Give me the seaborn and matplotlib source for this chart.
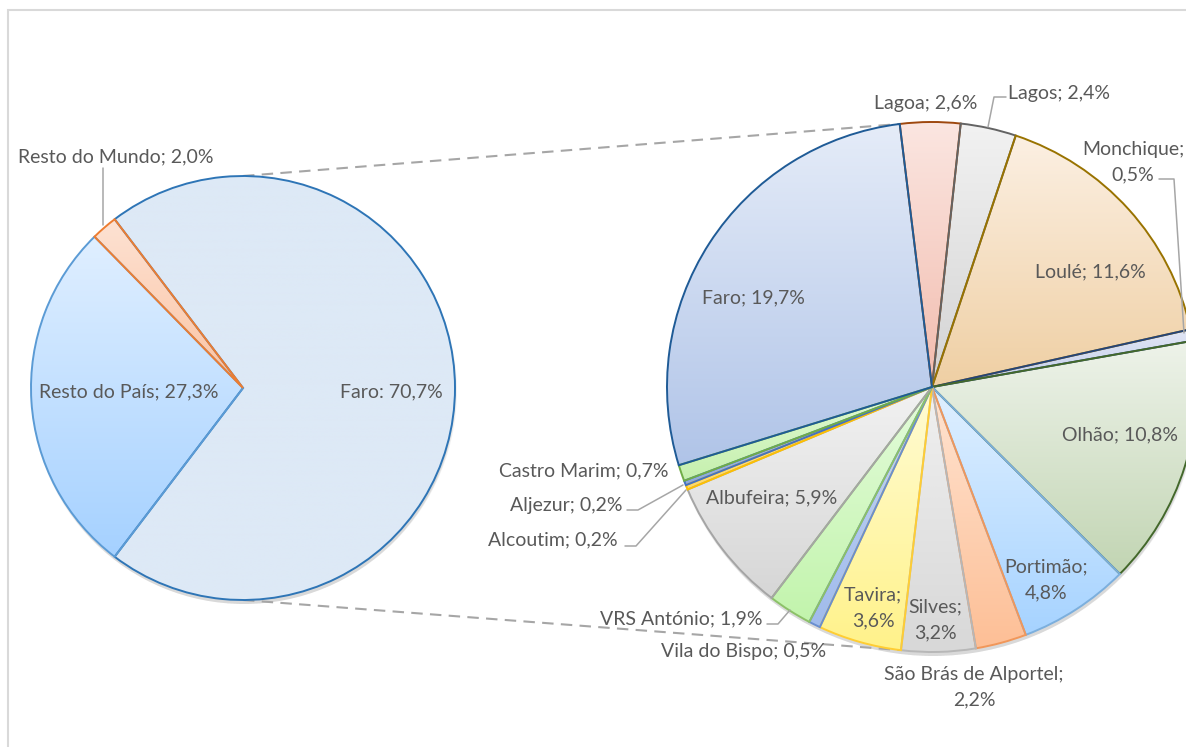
import numpy as np
import matplotlib
matplotlib.use("Agg")
import matplotlib.pyplot as plt
import seaborn as sns
from matplotlib.colors import to_rgb
from matplotlib.patches import Rectangle, Circle

# ---- data ----
main_labels = ["Faro", "Resto do País", "Resto do Mundo"]
main_values = [70.7, 27.3, 2.0]

sub_labels = ["Lagoa", "Lagos", "Loulé", "Monchique", "Olhão", "Portimão",
              "São Brás de Alportel", "Silves", "Tavira", "Vila do Bispo",
              "VRS António", "Albufeira", "Alcoutim", "Aljezur", "Castro Marim", "Faro"]
sub_values = [2.6, 2.4, 11.6, 0.5, 10.8, 4.8, 2.2, 3.2, 3.6, 0.5,
              1.9, 5.9, 0.2, 0.2, 0.7, 19.7]

# ---- styles ----
main_edges = ["#2e75b6", "#5b9bd5", "#ed7d31"]
main_fills = [("#dde9f6", "#dde9f6"), ("#e0efff", "#a5d1ff"), ("#fde2d3", "#fcc3a2")]

sub_edges = ["#9e480e", "#636363", "#997300", "#264478", "#43682b", "#7cafdd",
             "#f1975a", "#b7b7b7", "#ffcd33", "#698ed0", "#8cc168", "#a5a5a5",
             "#ffc000", "#4472c4", "#70ad47", "#1f5b96"]
sub_fills = [("#fbe6e1", "#f2bcae"), ("#f2f2f2", "#d3d3d3"), ("#fcf0e3", "#efcfa3"),
             ("#e1e6f5", "#c3cdea"), ("#eef3ea", "#c2d5b3"), ("#e0f0ff", "#a6d3ff"),
             ("#ffe4d2", "#fdbf96"), ("#f0f0f0", "#d8d8d8"), ("#fffcd5", "#fff28a"),
             ("#c8d8f5", "#a0bbec"), ("#e4fcdb", "#c2f4ac"), ("#f2f2f2", "#d6d6d6"),
             ("#ffe9a6", "#ffd966"), ("#b4c7f0", "#8eaadb"), ("#e2fad4", "#c5f0ad"),
             ("#e5ecf8", "#b0c4e8")]

W, H = 1186, 747
TXT = "#595959"


def py(y):
    return H - y


def pct(v):
    return f"{v:.1f}".replace(".", ",") + "%"


def grad_fill(ax, wedge, top, bottom):
    x0, y0 = wedge.get_path().get_extents().min
    x1, y1 = wedge.get_path().get_extents().max
    t = np.linspace(0, 1, 256)[:, None, None]
    img = (1 - t) * np.array(to_rgb(top)) + t * np.array(to_rgb(bottom))
    im = ax.imshow(img, extent=[x0, x1, y0, y1], origin="upper", aspect="auto",
                   interpolation="bilinear", zorder=0.9)
    im.set_clip_path(wedge)
    wedge.set_facecolor("none")


sns.set_theme(style="white")
plt.rcParams["font.family"] = ["Lato", "DejaVu Sans"]

fig = plt.figure(figsize=(W / 100, H / 100), dpi=100)
ax = fig.add_axes([0, 0, 1, 1])

left_c, left_r = (243, py(388)), 212
right_c, right_r = (932, py(387)), 265

# soft shadows under both pies
for c, r in [(left_c, left_r), (right_c, right_r)]:
    for k, a in enumerate([0.05, 0.05, 0.05]):
        ax.add_patch(Circle((c[0] + 1, c[1] - 3 - k), r + 1 - k, color="black",
                            alpha=a, lw=0, zorder=0.5))

# left pie: Faro slice centred facing the second pie
start_main = 360 * main_values[0] / sum(main_values) / 2
wl, _ = ax.pie(main_values, center=left_c, radius=left_r, startangle=start_main,
               counterclock=False, wedgeprops=dict(linewidth=1.4))
for w, e, f in zip(wl, main_edges, main_fills):
    w.set_edgecolor(e)
    grad_fill(ax, w, *f)

# right pie: breakdown of Faro district
start_sub = 97
wr, _ = ax.pie(sub_values, center=right_c, radius=right_r, startangle=start_sub,
               counterclock=False, wedgeprops=dict(linewidth=1.4))
for w, e, f in zip(wr, sub_edges, sub_fills):
    w.set_edgecolor(e)
    grad_fill(ax, w, *f)

# dashed connector lines
for a_left, a_right in [(90, start_sub), (270, 360 - start_sub)]:
    xl = left_c[0] + left_r * np.cos(np.radians(a_left))
    yl = left_c[1] + left_r * np.sin(np.radians(a_left))
    xr = right_c[0] + right_r * np.cos(np.radians(a_right))
    yr = right_c[1] + right_r * np.sin(np.radians(a_right))
    ax.plot([xl, xr], [yl, yr], color="#a6a6a6", lw=1.5, dashes=(5.5, 3.5),
            zorder=0.7)

# data labels
main_pos = {"Faro": (391, 392), "Resto do País": (129, 392), "Resto do Mundo": (116, 157)}
for name, v in zip(main_labels, main_values):
    sep = ":" if name == "Faro" else ";"
    x, y = main_pos[name]
    ax.text(x, py(y), f"{name}{sep} {pct(v)}", ha="center", va="center",
            color=TXT, fontsize=14, zorder=5)

sub_pos = {"Lagoa": (926, 104), "Lagos": (1059, 93), "Loulé": (1090, 272),
           "Monchique": (1133, 162), "Olhão": (1120, 435), "Portimão": (1046, 580),
           "São Brás de Alportel": (974, 687), "Silves": (935, 620),
           "Tavira": (873, 608), "Vila do Bispo": (744, 652),
           "VRS António": (681, 619), "Albufeira": (772, 498),
           "Alcoutim": (553, 540), "Aljezur": (566, 505),
           "Castro Marim": (584, 471), "Faro": (753, 298)}
two_lines = {"Monchique", "Portimão", "São Brás de Alportel", "Silves", "Tavira"}
for name, v in zip(sub_labels, sub_values):
    sep = ";\n" if name in two_lines else "; "
    x, y = sub_pos[name]
    ax.text(x, py(y), f"{name}{sep}{pct(v)}", ha="center", va="center",
            color=TXT, fontsize=14, linespacing=1.6, zorder=5)

# leader lines
leaders = [[(103, 168), (103, 225)],
           [(988, 127), (994, 97), (1006, 97)],
           [(1159, 179), (1174, 179), (1184, 333)],
           [(627, 510), (638, 510), (683, 485)],
           [(625, 546), (636, 546), (686, 490)],
           [(767, 624), (778, 624), (790, 610)]]
for pts in leaders:
    xs = [p[0] for p in pts]
    ys = [py(p[1]) for p in pts]
    ax.plot(xs, ys, color="#a6a6a6", lw=1.1, zorder=4)

# chart area border
ax.add_patch(Rectangle((8, -20), W + 40, py(10) + 20, fill=False,
                       edgecolor="#d9d9d9", lw=1.5, zorder=6))

ax.set_xlim(0, W)
ax.set_ylim(0, H)
ax.set_aspect("equal")
ax.axis("off")

fig.savefig("out.png", dpi=100)
